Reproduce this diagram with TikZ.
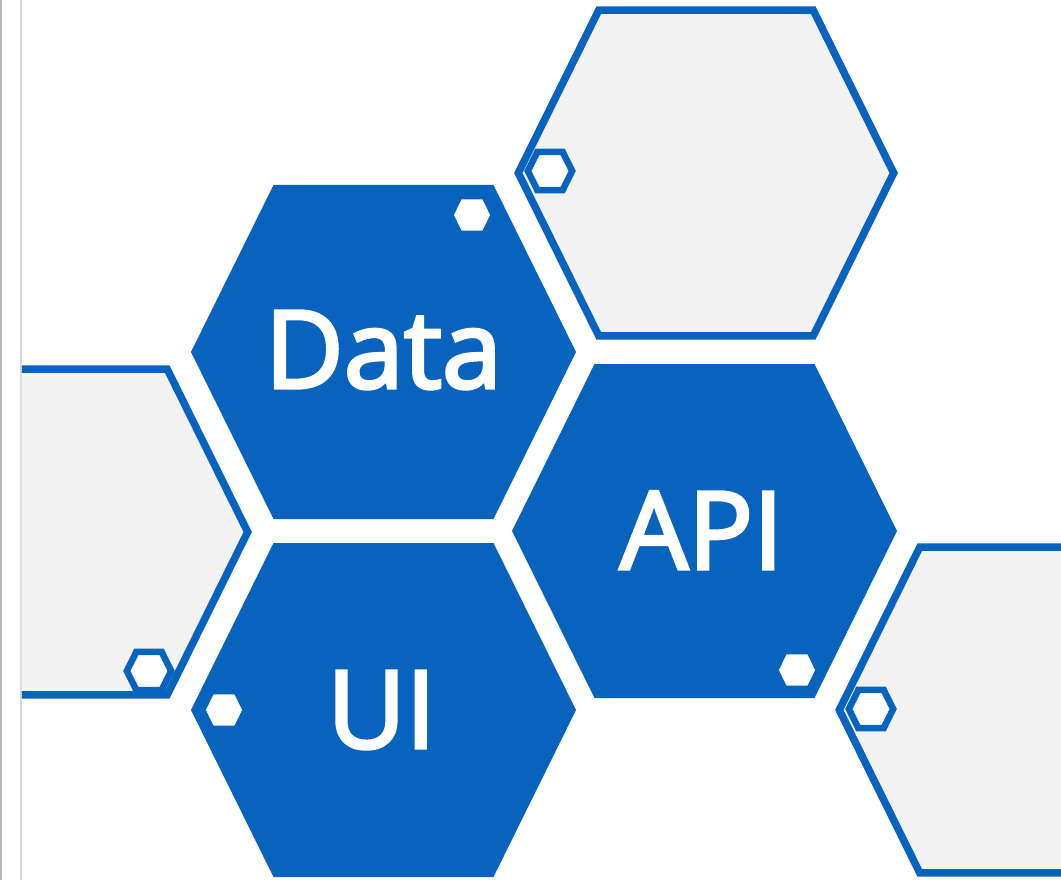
\documentclass[tikz,border=0pt]{standalone}
\usepackage{fontspec}
\setmainfont{Open Sans}
\newfontfamily\cellfont{Open Sans}[FakeBold=3]
\usetikzlibrary{calc}
\definecolor{hexblue}{RGB}{7,99,190}
\definecolor{hexgray}{RGB}{242,242,242}
\tikzset{every node/.style={font=\cellfont\fontsize{108}{120}\selectfont},
 cellfill/.style={fill=hexblue},
 cellline/.style={draw=hexblue,line width=7.5pt,fill=hexgray,line join=miter},
 dotfill/.style={fill=white},
 dotline/.style={draw=hexblue,line width=6.5pt,fill=white},
 celltext/.style={text=white,anchor=base,inner sep=0pt},
 frame/.style={gray!55,line width=1.5pt}}
\begin{document}
\begin{tikzpicture}[x=1pt,y=-1pt]
\useasboundingbox (0,0) rectangle (1061,880);
% bord de la fenêtre
\draw[frame] (0.8,0)--(0.8,880);
\draw[frame,gray!30] (21,0)--(21,880);
\begin{scope}
\clip (21.8,0) rectangle (1061,880);
% cellules vides, puis les trois cellules pleines
\foreach \cx/\cy in {706/173,60/532,1027/710}{
\begin{scope}[shift={(\cx,\cy)},scale=.975]
\draw[cellline] (-192.5,0)--(-110,-167)--(110,-167)--(192.5,0)--(110,167)--(-110,167)--cycle;
\end{scope}}
\foreach \cx/\cy in {383.5/352,704.5/531,383.5/710}{
\begin{scope}[shift={(\cx,\cy)}]
\fill[cellfill] (-192.5,0)--(-110,-167)--(110,-167)--(192.5,0)--(110,167)--(-110,167)--cycle;
\end{scope}}
% petits hexagones
\foreach \cx/\cy in {472/215,797/670,224/710}{
\begin{scope}[shift={(\cx,\cy)},scale=.094]
\fill[dotfill] (-192.5,0)--(-110,-167)--(110,-167)--(192.5,0)--(110,167)--(-110,167)--cycle;
\end{scope}}
\foreach \cx/\cy in {550/171,149/671,871/709}{
\begin{scope}[shift={(\cx,\cy)},scale=.115]
\draw[dotline] (-192.5,0)--(-110,-167)--(110,-167)--(192.5,0)--(110,167)--(-110,167)--cycle;
\end{scope}}
\end{scope}
\node[celltext] (data) at (383.5,388){Data};
\node[celltext] (api) at (701.5,569){API};
\node[celltext] (ui) at (381.5,748){UI};
\end{tikzpicture}
\end{document}
